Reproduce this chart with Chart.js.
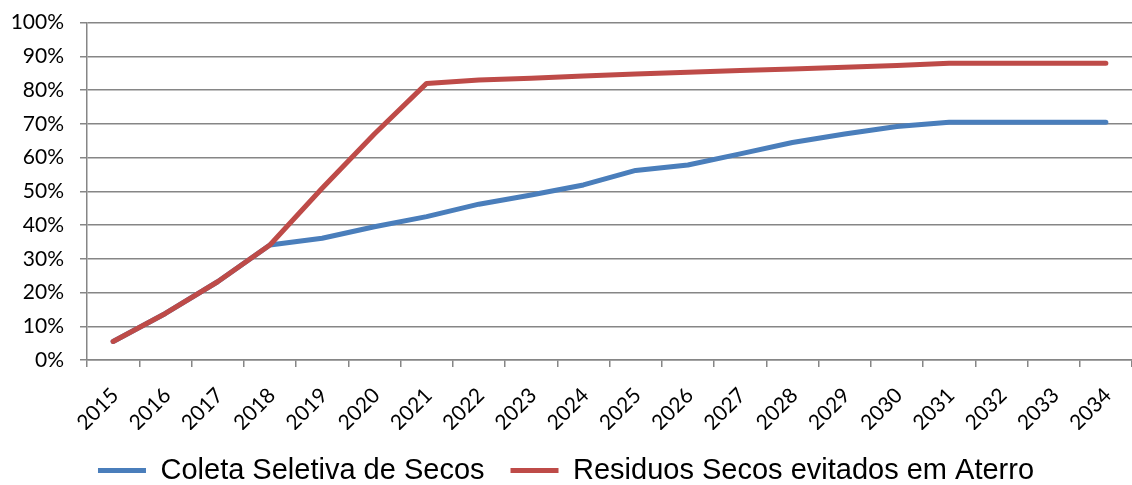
<!DOCTYPE html>
<html>
<head>
<meta charset="utf-8">
<script src="https://cdn.jsdelivr.net/npm/chart.js@4/dist/chart.umd.min.js"></script>
<style>
  html, body { margin: 0; padding: 0; background: #fff; }
  #wrap { width: 1132px; height: 485px; }
</style>
</head>
<body>
<div id="wrap"><canvas id="line-chartcanvas"></canvas></div>
<script>
// categories
var years = ["2015", "2016", "2017", "2018", "2019", "2020", "2021", "2022", "2023", "2024",
             "2025", "2026", "2027", "2028", "2029", "2030", "2031", "2032", "2033", "2034"];

// series values (%)
var coletaSeletiva = [5.5, 13.8, 23.2, 34.1, 36.1, 39.5, 42.5, 46.2, 48.9, 51.9,
                      56.2, 57.8, 61.1, 64.5, 67.0, 69.2, 70.5, 70.5, 70.5, 70.5];
var residuosEvitados = [5.5, 13.8, 23.2, 34.1, 50.9, 67.0, 82.0, 83.0, 83.5, 84.2,
                        84.8, 85.3, 85.8, 86.3, 86.8, 87.3, 88.0, 88.0, 88.0, 88.0];

// y tick values
var yMin = 0, yMax = 100, yStep = 10;

var gridGray = "#868686";
var tickFont = { family: "Lato, 'Open Sans', sans-serif", size: 21 };

var data = {
  labels: years,
  datasets: [
    {
      label: "Coleta Seletiva de Secos",
      data: coletaSeletiva,
      borderColor: "#4a7ebb",
      backgroundColor: "#4a7ebb",
      borderWidth: 5,
      borderCapStyle: "round",
      borderJoinStyle: "round",
      pointRadius: 0,
      fill: false,
      tension: 0,
      order: 1
    },
    {
      label: "Residuos Secos evitados em Aterro",
      data: residuosEvitados,
      borderColor: "#be4b48",
      backgroundColor: "#be4b48",
      borderWidth: 5,
      borderCapStyle: "round",
      borderJoinStyle: "round",
      pointRadius: 0,
      fill: false,
      tension: 0,
      order: 0
    }
  ]
};

var options = {
  responsive: true,
  maintainAspectRatio: false,
  animation: false,
  layout: { padding: { top: 0, right: 0, left: 0, bottom: -10 } },
  plugins: {
    tooltip: { enabled: false },
    legend: {
      display: true,
      position: "bottom",
      labels: {
        usePointStyle: true,
        pointStyle: "line",
        pointStyleWidth: 48,
        boxWidth: 48,
        boxHeight: 5,
        padding: 26,
        color: "#000",
        font: { family: "'Liberation Sans', Arial, sans-serif", size: 29 },
        sort: function (a, b) { return a.datasetIndex - b.datasetIndex; }
      }
    }
  },
  scales: {
    x: {
      offset: true,
      grid: {
        offset: true,
        drawOnChartArea: false,
        drawTicks: true,
        tickLength: 7,
        color: gridGray,
        lineWidth: 1.5
      },
      border: { color: gridGray, width: 1.5 },
      ticks: {
        color: "#000",
        maxRotation: 45,
        minRotation: 45,
        autoSkip: false,
        padding: 16,
        labelOffset: 2,
        font: tickFont
      },
      afterFit: function (scale) {
        scale.height = 70;
        scale.paddingRight = 0;
      }
    },
    y: {
      min: yMin,
      max: yMax,
      grid: {
        color: gridGray,
        lineWidth: 1.5,
        drawTicks: true,
        tickLength: 7
      },
      border: { color: gridGray, width: 1.5 },
      ticks: {
        stepSize: yStep,
        color: "#000",
        padding: 16,
        font: tickFont,
        callback: function (v) { return v + "%"; }
      },
      afterFit: function (scale) {
        scale.width = 87;
        scale.paddingTop = 22.7;
      }
    }
  }
};

var ctx = document.getElementById("line-chartcanvas");
var chart = new Chart(ctx, { type: "line", data: data, options: options });
</script>
</body>
</html>
